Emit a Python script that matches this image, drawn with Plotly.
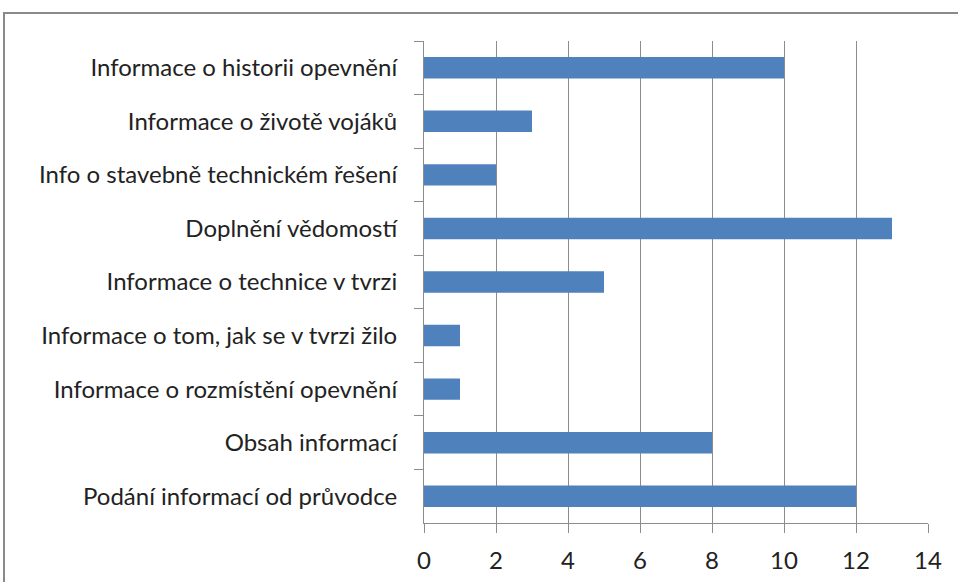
import plotly.graph_objects as go

categories = [
    "Informace o historii opevnění",
    "Informace o životě vojáků",
    "Info o stavebně technickém řešení",
    "Doplnění vědomostí",
    "Informace o technice v tvrzi",
    "Informace o tom, jak se v tvrzi žilo",
    "Informace o rozmístění opevnění",
    "Obsah informací",
    "Podání informací od průvodce",
]
counts = [10, 3, 2, 13, 5, 1, 1, 8, 12]
x_ticks = [0, 2, 4, 6, 8, 10, 12, 14]

font = "Lato, 'Open Sans', sans-serif"

fig = go.Figure(go.Bar(
    x=counts, y=categories, orientation="h",
    marker=dict(color="#4F81BD", line=dict(width=0)),
    width=0.4,
))

# plot area in pixels: left 424, right 928, top 41, bottom 523
L, R, T, B = 424, 30, 41, 59
pw, ph = 958 - L - R, 582 - T - B

fig.update_layout(
    width=958, height=582,
    margin=dict(l=L, r=R, t=T, b=B),
    paper_bgcolor="white", plot_bgcolor="white",
    showlegend=False,
    font=dict(family=font, size=24, color="#222222"),
    xaxis=dict(
        range=[0, 14], tickvals=x_ticks,
        showgrid=True, gridcolor="#8c8c8c", gridwidth=1,
        showline=True, linecolor="#8c8c8c", linewidth=1,
        ticks="outside", ticklen=9, tickcolor="#8c8c8c",
        ticklabelstandoff=7, zeroline=False, automargin=False,
    ),
    yaxis=dict(
        autorange="reversed", showgrid=False,
        showline=True, linecolor="#8c8c8c", linewidth=1,
        ticks="outside", ticklen=9, tickcolor="#8c8c8c",
        tickson="boundaries", ticklabelstandoff=21, automargin=False,
    ),
    shapes=[dict(
        type="rect", xref="paper", yref="paper",
        x0=(4 - L) / pw, x1=(970 - L) / pw,
        y0=(T + ph - 600) / ph, y1=1 + (T - 13) / ph,
        line=dict(color="#8a8a8a", width=2), layer="below",
    )],
)

fig.write_html("out.html", config={"displayModeBar": False},
               post_script="document.body.style.margin='0';")
